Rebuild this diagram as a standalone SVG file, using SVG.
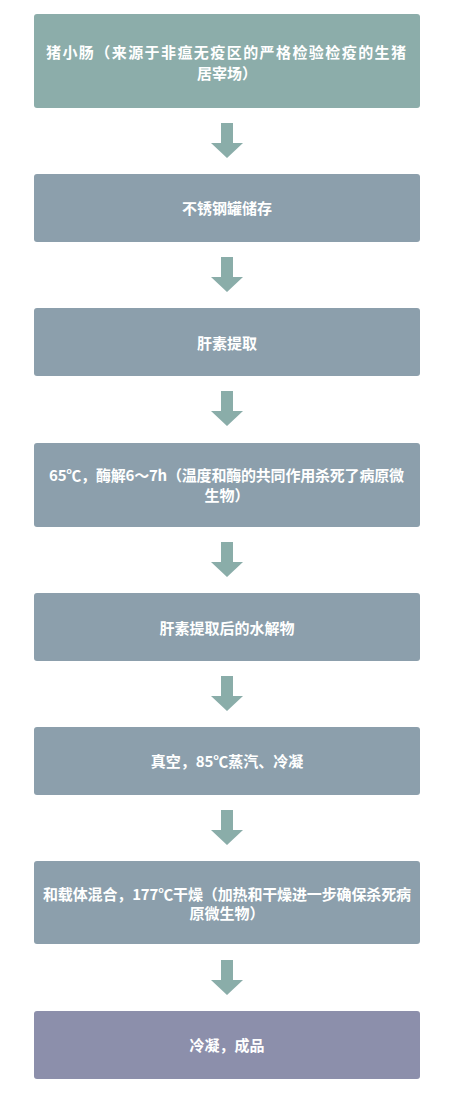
<svg xmlns="http://www.w3.org/2000/svg" width="450" height="1099" viewBox="0 0 450 1099">
<style>
.box{fill:#8c9fac}
.t{font-family:"Noto Sans CJK SC","Liberation Sans",sans-serif;font-size:15px;font-weight:bold;fill:#ffffff}
.m{text-anchor:middle}
.arr{fill:#8aada9}
</style>
<rect width="450" height="1099" fill="#ffffff"/>
<g id="connectors">
<polygon class="arr" points="221,123 233,123 233,143 243,143 227,158 211,143 221,143"/>
<polygon class="arr" points="221,257 233,257 233,277 243,277 227,292 211,277 221,277"/>
<polygon class="arr" points="221,391 233,391 233,411 243,411 227,426 211,411 221,411"/>
<polygon class="arr" points="221,542 233,542 233,562 243,562 227,577 211,562 221,562"/>
<polygon class="arr" points="221,676 233,676 233,696 243,696 227,711 211,696 221,696"/>
<polygon class="arr" points="221,810 233,810 233,830 243,830 227,845 211,830 221,830"/>
<polygon class="arr" points="221,960 233,960 233,980 243,980 227,995 211,980 221,980"/>
</g>
<g id="n1">
<rect x="34" y="14" width="386" height="94" rx="3" fill="#8cadaa"/>
<text class="t" x="46" y="58" textLength="360" lengthAdjust="spacing">猪小肠（来源于非瘟无疫区的严格检验检疫的生猪</text>
<text class="t m" x="227" y="78.5">居宰场）</text>
</g>
<g id="n2">
<rect class="box" x="34" y="174" width="386" height="68" rx="3"/>
<text class="t m" x="227" y="214">不锈钢罐储存</text>
</g>
<g id="n3">
<rect class="box" x="34" y="308" width="386" height="68" rx="3"/>
<text class="t m" x="227" y="348.5">肝素提取</text>
</g>
<g id="n4">
<rect class="box" x="34" y="443" width="386" height="84" rx="3"/>
<text class="t" x="49" y="481" textLength="355" lengthAdjust="spacing">65℃，酶解6～7h（温度和酶的共同作用杀死了病原微</text>
<text class="t m" x="227" y="500.5">生物）</text>
</g>
<g id="n5">
<rect class="box" x="34" y="593" width="386" height="68" rx="3"/>
<text class="t m" x="227" y="634">肝素提取后的水解物</text>
</g>
<g id="n6">
<rect class="box" x="34" y="727" width="386" height="68" rx="3"/>
<text class="t m" x="227" y="767">真空，85℃蒸汽、冷凝</text>
</g>
<g id="n7">
<rect class="box" x="34" y="861" width="386" height="83" rx="3"/>
<text class="t" x="43" y="899.5" textLength="368" lengthAdjust="spacing">和载体混合，177℃干燥（加热和干燥进一步确保杀死病</text>
<text class="t m" x="227" y="919">原微生物）</text>
</g>
<g id="n8">
<rect x="34" y="1011" width="386" height="68" rx="3" fill="#8c8fab"/>
<text class="t m" x="227" y="1051">冷凝，成品</text>
</g>
</svg>
